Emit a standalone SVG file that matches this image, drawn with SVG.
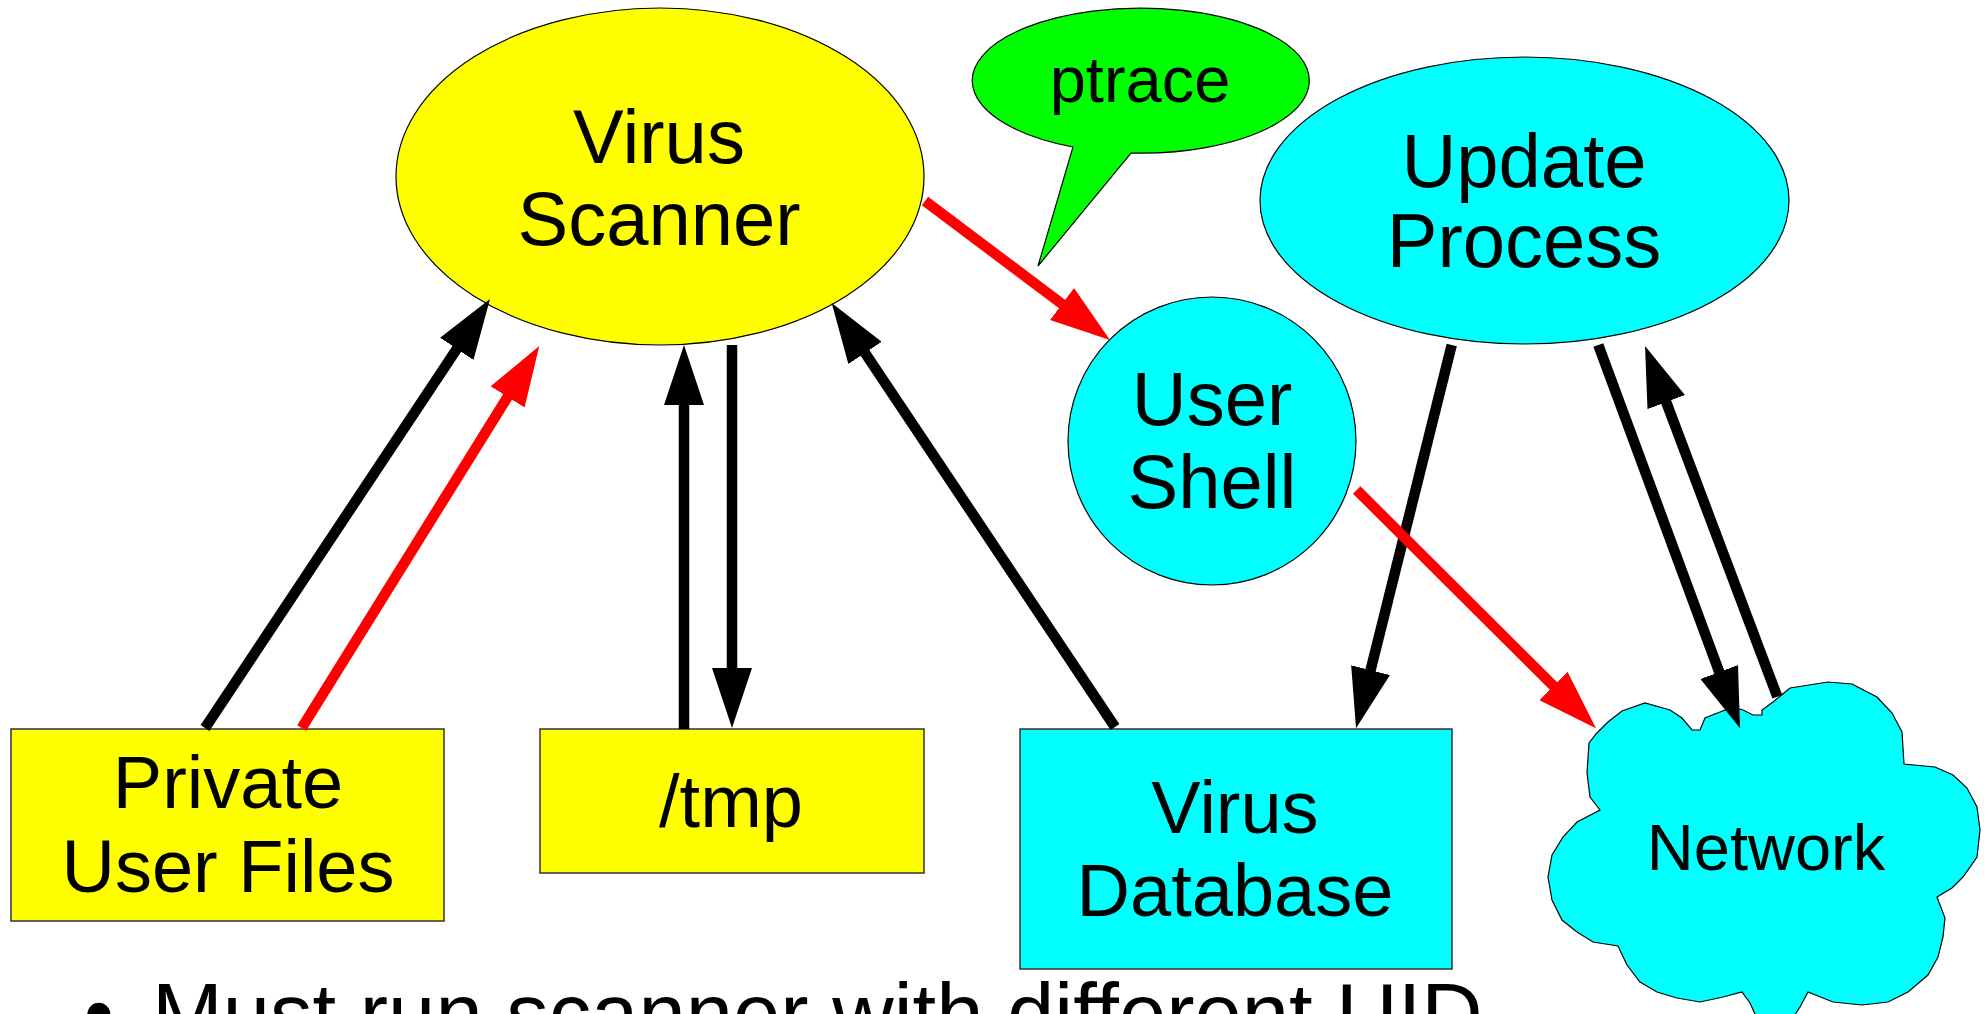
<svg xmlns="http://www.w3.org/2000/svg" width="1988" height="1014" viewBox="0 0 1988 1014">
  <style>
    .lbl { font-family: "Liberation Sans", Arial, sans-serif; font-size: 76px; fill: #000; text-anchor: middle; }
    .sm { font-size: 74px; }
    .yellow { fill: #ffff00; stroke: #000; stroke-width: 1.2; }
    .cyan { fill: #00ffff; stroke: #000; stroke-width: 1.2; }
    .green { fill: #00ff00; stroke: #000; stroke-width: 1.2; }
    .box { stroke: #333; stroke-width: 1.5; }
    .blk { stroke: #000; stroke-width: 10.5; fill: none; marker-end: url(#headBlack); }
    .red { stroke: #ff0000; stroke-width: 10.5; fill: none; marker-end: url(#headRed); }
    .bullet { font-family: "Liberation Sans", Arial, sans-serif; font-size: 85px; fill: #000; }
  </style>
  <defs>
    <marker id="headBlack" viewBox="0 0 60 40" refX="4" refY="20" markerWidth="60" markerHeight="40" markerUnits="userSpaceOnUse" orient="auto">
      <path d="M0,0 L60,20 L0,40 Z" fill="#000"/>
    </marker>
    <marker id="headRed" viewBox="0 0 60 40" refX="4" refY="20" markerWidth="60" markerHeight="40" markerUnits="userSpaceOnUse" orient="auto">
      <path d="M0,0 L60,20 L0,40 Z" fill="#ff0000"/>
    </marker>
  </defs>

  <rect width="1988" height="1014" fill="#fff"/>

  <g id="virus-scanner">
    <ellipse class="yellow" cx="660" cy="176.5" rx="264" ry="168.5"/>
    <text class="lbl" x="659" y="163">Virus</text>
    <text class="lbl" x="659" y="245">Scanner</text>
  </g>

  <g id="ptrace">
    <path class="green" d="M1131,153 A168.5,72.5 0 1 0 1073,147 L1038,266 Z"/>
    <text class="lbl" x="1140" y="102" style="font-size:65px">ptrace</text>
  </g>

  <g id="update-process">
    <ellipse class="cyan" cx="1524.5" cy="200.5" rx="264.5" ry="143.5"/>
    <text class="lbl" x="1524" y="187">Update</text>
    <text class="lbl" x="1524" y="267">Process</text>
  </g>

  <g id="user-shell">
    <circle class="cyan" cx="1212" cy="441" r="144"/>
    <text class="lbl" x="1212" y="425">User</text>
    <text class="lbl" x="1212" y="508">Shell</text>
  </g>

  <g id="private-user-files">
    <rect class="yellow box" x="11" y="729" width="433" height="192"/>
    <text class="lbl sm" x="228" y="808">Private</text>
    <text class="lbl sm" x="228" y="892">User Files</text>
  </g>

  <g id="tmp">
    <rect class="yellow box" x="540" y="729" width="384" height="144"/>
    <text class="lbl sm" x="731" y="827">/tmp</text>
  </g>

  <g id="virus-database">
    <rect class="cyan box" x="1020" y="729" width="432" height="240"/>
    <text class="lbl sm" x="1235" y="833">Virus</text>
    <text class="lbl sm" x="1235" y="916">Database</text>
  </g>

  <g id="network">
    <path class="cyan" d="M1589,743 L1596,734 L1608,722 L1622,711 L1645,703 L1670,710 L1682,718 L1692,730 L1700,730 L1705,718 L1720,712 L1733,707 L1743,710 L1753,715 L1762,715 L1762,710 L1773,702 L1790,688 L1828,682 L1852,684 L1877,697 L1892,713 L1902,732 L1904,764 L1935,767 L1953,775 L1967,788 L1977,807 L1980,830 L1977,857 L1963,877 L1952,888 L1937,897 L1945,918 L1943,937 L1938,957 L1928,975 L1908,992 L1888,1002 L1862,1005 L1833,1002 L1808,992 L1800,1007 L1790,1022 L1760,1025 L1750,1003 L1742,992 L1723,997 L1700,1002 L1677,998 L1657,992 L1640,982 L1627,965 L1618,946 L1593,942 L1577,932 L1562,920 L1552,900 L1548,877 L1552,855 L1563,837 L1577,822 L1600,810 L1590,797 L1587,773 Z"/>
    <text class="lbl" x="1766" y="870" style="font-size:65px">Network</text>
  </g>

  <g id="connectors">
    <line class="blk" x1="205" y1="728" x2="459" y2="345.6"/>
    <line class="blk" x1="684" y1="729" x2="684" y2="401"/>
    <line class="blk" x1="732" y1="345" x2="732" y2="672"/>
    <line class="blk" x1="1115" y1="727" x2="862.8" y2="349.6"/>
    <line class="blk" x1="1451.7" y1="345" x2="1369.6" y2="674"/>
    <line class="blk" x1="1598.3" y1="345" x2="1720.6" y2="675.8"/>
    <line class="blk" x1="1777.3" y1="696.7" x2="1664.8" y2="398.4"/>
    <line class="red" x1="301.7" y1="728" x2="509.7" y2="393.5"/>
    <line class="red" x1="925" y1="201" x2="1065.2" y2="306.4"/>
    <line class="red" x1="1356.7" y1="490" x2="1556.3" y2="688.8"/>
  </g>

  <g id="caption">
    <text class="bullet" x="84" y="1043">•</text>
    <text class="bullet" x="152" y="1043">Must run scanner with different UID</text>
  </g>
</svg>
